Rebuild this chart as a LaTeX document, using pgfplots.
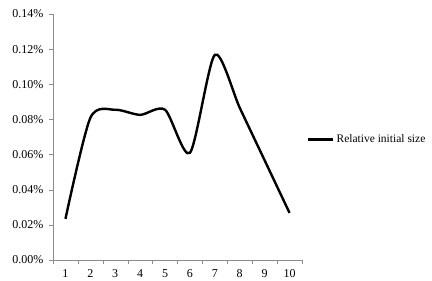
\documentclass[border=0pt]{standalone}
\usepackage{pgfplots}
\pgfplotsset{compat=1.18}
\usepackage{fontspec}
\setmainfont{Liberation Serif}
\begin{document}
\begin{tikzpicture}
\path[use as bounding box] (0,0) rectangle (432pt,281pt);
\begin{axis}[
  at={(53pt,21pt)}, anchor=south west,
  scale only axis, width=249pt, height=246pt,
  xmin=0.5, xmax=10.5, ymin=0, ymax=0.14,
  axis lines*=left,
  axis line style={draw=gray!90},
  xtick={0.5,1.5,...,10.5},
  x tick label as interval,
  xticklabels={1,2,3,4,5,6,7,8,9,10},
  ytick={0,0.02,...,0.14},
  yticklabel={\pgfmathprintnumber[fixed,fixed zerofill,precision=2]{\tick}\%},
  /pgf/number format/assume math mode=true,
  tick style={draw=gray!90, major tick length=4pt},
  tick align=outside,
  xtick pos=bottom, ytick pos=left,
  ticklabel style={font=\fontsize{12}{14}\selectfont, text=black},
  xticklabel style={yshift=-2pt},
  yticklabel style={xshift=-2pt},
  scaled y ticks=false,
  legend style={at={(1.02,0.49)}, anchor=west, draw=none, fill=none,
    font=\fontsize{11.5}{13}\selectfont, inner sep=0pt,
    legend cell align=left},
  legend image code/.code={\draw[#1] (0pt,0pt) -- (25pt,0pt);},
]
\addplot[black, line width=2.4pt, smooth, tension=0.45] coordinates {
(1,0.0234) (2,0.0809) (3,0.0855) (4,0.0826) (5,0.0855)
(6,0.0610) (7,0.1168) (8,0.0866) (9,0.0567) (10,0.0268)};
\addlegendentry{Relative initial size}
\end{axis}
\end{tikzpicture}
\end{document}
